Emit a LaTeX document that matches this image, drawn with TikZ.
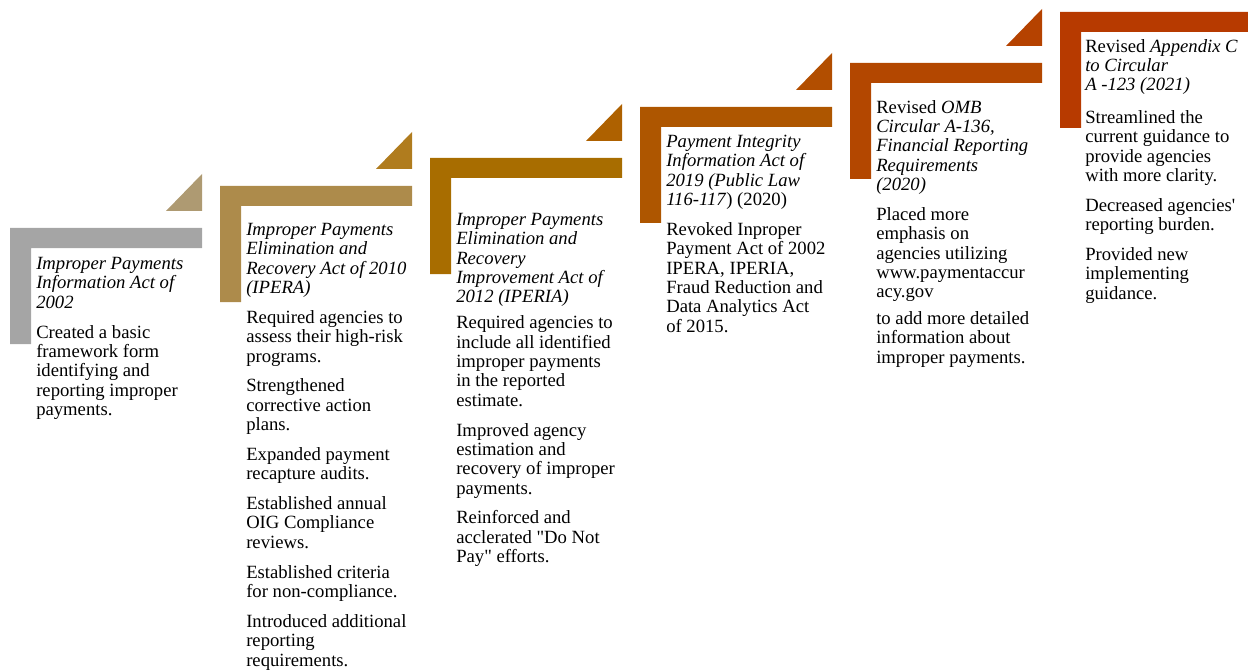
\documentclass[tikz,border=0pt]{standalone}
\usepackage{fontspec}
\setmainfont{Liberation Serif}
\usepackage{tikz}
\usetikzlibrary{positioning}

\definecolor{barone}{HTML}{A5A5A5}
\definecolor{tipone}{HTML}{AE9A72}
\definecolor{bartwo}{HTML}{AD8B4B}
\definecolor{tiptwo}{HTML}{B07C1E}
\definecolor{barthree}{HTML}{A86D00}
\definecolor{tipthree}{HTML}{AE6100}
\definecolor{barfour}{HTML}{AE5600}
\definecolor{tipfour}{HTML}{B24E00}
\definecolor{barfive}{HTML}{B34700}
\definecolor{tipfive}{HTML}{B54200}
\definecolor{barsix}{HTML}{B73A00}

\begin{document}
\begin{tikzpicture}[
    x=0.75pt, y=-0.75pt,
    txt/.style={anchor=north west, inner sep=0pt, align=left, font=\fontsize{14}{14.5}\selectfont}
]
\useasboundingbox (0,0) rectangle (1248,670);

\fill[barone] (10,228) -- ++(192,0) -- ++(0,20) -- ++(-171,0) -- ++(0,96) -- ++(-21,0) -- cycle;
\fill[tipone] (202,211) -- ++(0,-37) -- ++(-36,37) -- cycle;
\fill[bartwo] (220,186) -- ++(192,0) -- ++(0,20) -- ++(-171,0) -- ++(0,96) -- ++(-21,0) -- cycle;
\fill[tiptwo] (412,169) -- ++(0,-37) -- ++(-36,37) -- cycle;
\fill[barthree] (430,158) -- ++(192,0) -- ++(0,20) -- ++(-171,0) -- ++(0,96) -- ++(-21,0) -- cycle;
\fill[tipthree] (622,141) -- ++(0,-37) -- ++(-36,37) -- cycle;
\fill[barfour] (640,107) -- ++(192,0) -- ++(0,20) -- ++(-171,0) -- ++(0,96) -- ++(-21,0) -- cycle;
\fill[tipfour] (832,90) -- ++(0,-37) -- ++(-36,37) -- cycle;
\fill[barfive] (850,63) -- ++(192,0) -- ++(0,20) -- ++(-171,0) -- ++(0,96) -- ++(-21,0) -- cycle;
\fill[tipfive] (1042,46) -- ++(0,-37) -- ++(-36,37) -- cycle;
\fill[barsix] (1060,12) -- ++(188,0) -- ++(0,20) -- ++(-167,0) -- ++(0,96) -- ++(-21,0) -- cycle;

\node[txt] (ipia) at (36,257) {\textit{Improper Payments}\\ \textit{Information Act of}\\ \textit{2002}\\[7.9pt]
Created a basic\\ framework form\\ identifying and\\ reporting improper\\ payments.};
\node[txt] (ipera) at (246,223) {\textit{Improper Payments}\\ \textit{Elimination and}\\ \textit{Recovery Act of 2010}\\ \textit{(IPERA)}\\[7.9pt]
Required agencies to\\ assess their high-risk\\ programs.\\[7.9pt]
Strengthened\\ corrective action\\ plans.\\[7.9pt]
Expanded payment\\ recapture audits.\\[7.9pt]
Established annual\\ OIG Compliance\\ reviews.\\[7.9pt]
Established criteria\\ for non-compliance.\\[7.9pt]
Introduced additional\\ reporting\\ requirements.};
\node[txt] (iperia) at (456,213) {\textit{Improper Payments}\\ \textit{Elimination and}\\ \textit{Recovery}\\ \textit{Improvement Act of}\\ \textit{2012 (IPERIA)}\\[5pt]
Required agencies to\\ include all identified\\ improper payments\\ in the reported\\ estimate.\\[7.9pt]
Improved agency\\ estimation and\\ recovery of improper\\ payments.\\[7.9pt]
Reinforced and\\ acclerated \textquotedbl Do Not\\ Pay\textquotedbl{} efforts.};
\node[txt] (piia) at (666,135) {\textit{Payment Integrity}\\ \textit{Information Act of}\\ \textit{2019 (Public Law}\\ \textit{116-117}) (2020)\\[7.9pt]
Revoked Inproper\\ Payment Act of 2002\\ IPERA, IPERIA,\\ Fraud Reduction and\\ Data Analytics Act\\ of 2015.};
\node[txt] (omb) at (876,100) {Revised \textit{OMB}\\ \textit{Circular A-136,}\\ \textit{Financial Reporting}\\ \textit{Requirements}\\ \textit{(2020)}\\[7.9pt]
Placed more\\ emphasis on\\ agencies utilizing\\ www.paymentaccur\\ acy.gov\\[5.5pt]
to add more detailed\\ information about\\ improper payments.};
\node[txt] (appc) at (1085,39) {Revised \textit{Appendix C}\\ \textit{to Circular}\\ \textit{A -123 (2021)}\\[10pt]
Streamlined the\\ current guidance to\\ provide agencies\\ with more clarity.\\[7.9pt]
Decreased agencies\textquotesingle\\ reporting burden.\\[7.9pt]
Provided new\\ implementing\\ guidance.};
\end{tikzpicture}
\end{document}
